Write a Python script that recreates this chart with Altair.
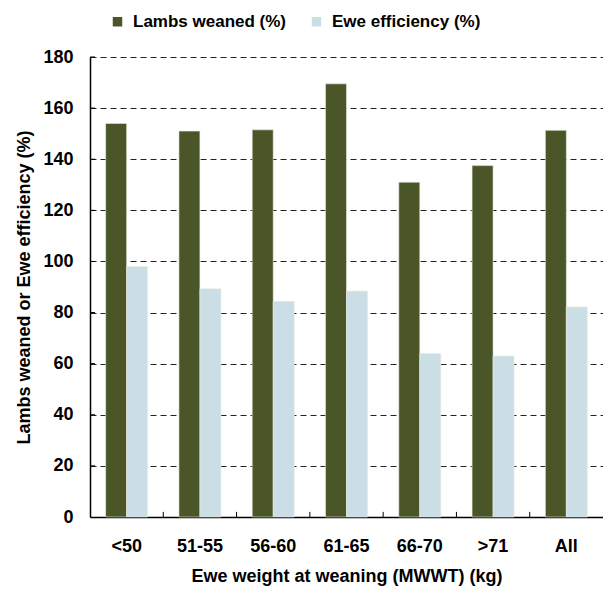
import altair as alt
import pandas as pd

categories = ["<50", "51-55", "56-60", "61-65", "66-70", ">71", "All"]
lambs_weaned = [154, 151, 151.5, 169.5, 131, 137.5, 151.3]
ewe_efficiency = [98, 89.3, 84.4, 88.4, 64, 63, 82.2]
series_names = ["Lambs weaned (%)", "Ewe efficiency (%)"]
colors = ["#4b5628", "#cbdee5"]
y_ticks = list(range(20, 181, 20))

rows = []
for c, a, b in zip(categories, lambs_weaned, ewe_efficiency):
    rows.append({"cat": c, "series": series_names[0], "value": a})
    rows.append({"cat": c, "series": series_names[1], "value": b})
df = pd.DataFrame(rows)
xticks_df = pd.DataFrame({"cat": categories[1:]})
yticks_df = pd.DataFrame({"v": y_ticks})

FONT = "Liberation Sans"

x_scale = alt.Scale(domain=categories, paddingInner=0, paddingOuter=0)
y_scale = alt.Scale(domain=[0, 180], nice=False)

bars = alt.Chart(df).mark_bar(stroke="#e8ede0", strokeWidth=0.6).encode(
    x=alt.X("cat:N", scale=x_scale, sort=categories,
            axis=alt.Axis(title="Ewe weight at weaning (MWWT) (kg)", labelAngle=0,
                          ticks=False, labelPadding=20, titlePadding=12,
                          domainColor="black", domainWidth=1.5)),
    xOffset=alt.XOffset("series:N", sort=series_names,
                        scale=alt.Scale(domain=series_names, paddingInner=0, paddingOuter=0.745)),
    y=alt.Y("value:Q", scale=y_scale,
            axis=alt.Axis(title="Lambs weaned or Ewe efficiency (%)", values=list(range(0, 181, 20)),
                          ticks=False, domainColor="black", domainWidth=1.5,
                          grid=True, gridDash=[6, 4], gridColor="#222222", gridWidth=1,
                          labelPadding=17, titlePadding=9)),
    color=alt.Color("series:N", sort=series_names,
                    scale=alt.Scale(domain=series_names, range=colors),
                    legend=alt.Legend(title=None, orient="none", direction="horizontal",
                                      legendX=19, legendY=-44, symbolType="square",
                                      symbolSize=90, symbolStrokeWidth=0,
                                      labelFontSize=17, labelFontWeight="bold",
                                      labelColor="black",
                                      labelFont=FONT, columnPadding=21, labelOffset=7)),
)

xticks = alt.Chart(xticks_df).mark_rule(color="black", strokeWidth=1).encode(
    x=alt.X("cat:N", scale=x_scale, sort=categories, bandPosition=0),
    y=alt.datum(0),
    y2=alt.datum(2),
)

yticks = alt.Chart(yticks_df).mark_rule(color="black", strokeWidth=1).encode(
    y=alt.Y("v:Q", scale=y_scale),
    x=alt.value(0),
    x2=alt.value(5),
)

chart = alt.layer(bars, xticks, yticks).properties(
    width=513, height=460,
    autosize=alt.AutoSizeParams(type="none"),
    padding={"left": 82, "top": 49, "right": 0, "bottom": 74},
).configure_view(stroke=None).configure_axis(
    labelFont=FONT, titleFont=FONT, labelFontSize=18, labelFontWeight="bold",
    titleFontSize=18, titleFontWeight="bold", labelColor="black", titleColor="black"
)

chart.save("out.html", embed_options={"renderer": "svg", "actions": False})
